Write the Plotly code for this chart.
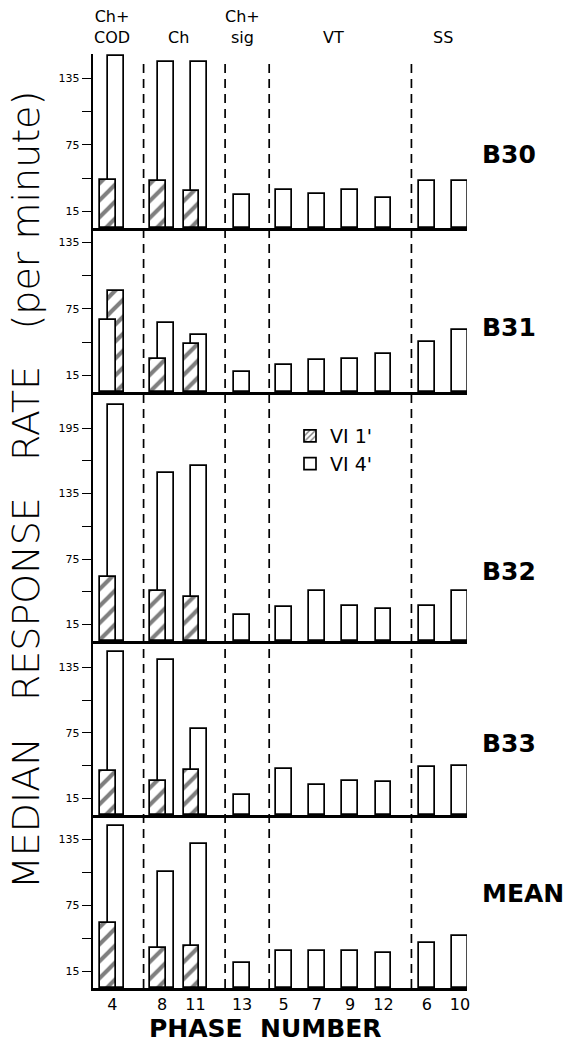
import plotly.graph_objects as go
from plotly.subplots import make_subplots

# ---------------- data ----------------
phases = ["4", "8", "11", "13", "5", "7", "9", "12", "6", "10"]
group_labels = ["Ch+<br>COD", "Ch", "Ch+<br>sig", "VT", "SS"]
group_sizes = [1, 2, 1, 4, 2]
panel_names = ["B30", "B31", "B32", "B33", "MEAN"]
series_names = ["VI 1'", "VI 4'"]

# VI 1' (hatched) - only measured in phases 4, 8, 11
vi1_b30 = [43, 42, 33, None, None, None, None, None, None, None]
vi1_b31 = [91, 30, 43.5, None, None, None, None, None, None, None]
vi1_b32 = [59, 46, 40, None, None, None, None, None, None, None]
vi1_b33 = [40, 31.5, 41, None, None, None, None, None, None, None]
vi1_mean = [59, 36, 38, None, None, None, None, None, None, None]

# VI 4' (open)
vi4_b30 = [155, 150, 150, 30, 34, 31, 34, 27, 42, 42]
vi4_b31 = [65, 62, 51, 18, 24, 28.5, 30, 34, 45, 56]
vi4_b32 = [216, 154, 160, 24, 31, 46, 32, 29, 32, 46]
vi4_b33 = [149, 142, 79, 18, 42, 27.5, 31.5, 30.5, 43.5, 45]
vi4_mean = [147, 105, 131, 23, 33.5, 33.5, 33.5, 32, 41, 47]

vi1_panels = [vi1_b30, vi1_b31, vi1_b32, vi1_b33, vi1_mean]
vi4_panels = [vi4_b30, vi4_b31, vi4_b32, vi4_b33, vi4_mean]

y_tick_vals = [15, 45, 75, 105, 135, 165, 195]
y_tick_text = ["15", "", "75", "", "135", "", "195"]
y_tops = [157, 147.6, 228, 159, 157]

# ---------------- layout constants ----------------
W, H = 565, 1045
ML, MR, MT, MB = 93, 98, 54, 57
PW, PH = W - ML - MR, H - MT - MB
row_px = [174, 164, 249, 174, 173]
GROUP_GAPS = [0.5, 0.4, 0.25, 0.3]
BAR_W = 0.48
PAIR_SHIFT = 0.12
FONT = "DejaVu Sans"


def px_x(px):
    return (px - ML) / PW


def px_y(py):
    return (H - MB - py) / PH


# category positions: one slot per phase plus gaps between groups
positions = []
group_of = []
p = 0.0
for g, n in enumerate(group_sizes):
    if g > 0:
        p += GROUP_GAPS[g - 1]
    for _ in range(n):
        positions.append(p)
        group_of.append(g)
        p += 1.0

fig = make_subplots(rows=5, cols=1, shared_xaxes=True, vertical_spacing=0,
                    row_heights=row_px)

bar_line = dict(color="black", width=1.7)
pattern_common = dict(fgcolor="black", bgcolor="white", size=12, solidity=0.34)

for r, (v1, v4) in enumerate(zip(vi1_panels, vi4_panels), start=1):
    back_y, back_off, back_shape = [], [], []
    front_y, front_off, front_shape = [], [], []
    for a, b in zip(v1, v4):
        if a is None:
            back_y.append(b); back_off.append(-BAR_W / 2); back_shape.append("")
            front_y.append(None); front_off.append(0); front_shape.append("")
        else:
            if a <= b:
                fy, fs, by, bs = a, "/", b, ""
            else:
                fy, fs, by, bs = b, "", a, "/"
            back_y.append(by); back_off.append(PAIR_SHIFT - BAR_W / 2); back_shape.append(bs)
            front_y.append(fy); front_off.append(-PAIR_SHIFT - BAR_W / 2); front_shape.append(fs)
    fig.add_trace(go.Bar(x=positions, y=back_y, offset=back_off, width=BAR_W,
                         marker=dict(color="white", line=bar_line,
                                     pattern=dict(shape=back_shape, **pattern_common)),
                         showlegend=False, hoverinfo="skip"), row=r, col=1)
    fig.add_trace(go.Bar(x=positions, y=front_y, offset=front_off, width=BAR_W,
                         marker=dict(color="white", line=bar_line,
                                     pattern=dict(shape=front_shape, **pattern_common)),
                         showlegend=False, hoverinfo="skip"), row=r, col=1)

# legend entries
for name, shape in zip(series_names, ["/", ""]):
    fig.add_trace(go.Bar(x=[None], y=[None], name=name,
                         marker=dict(color="white", line=bar_line,
                                     pattern=dict(shape=shape, fgcolor="black",
                                                  bgcolor="white", size=5, solidity=0.35)),
                         showlegend=True), row=3, col=1)

x_range = [-0.58, 10.66]
for r in range(1, 6):
    fig.update_xaxes(range=x_range, showline=True, linecolor="black", linewidth=2.6,
                     showgrid=False, zeroline=False, ticks="",
                     tickvals=positions, ticktext=phases,
                     tickfont=dict(family=FONT, size=16, color="black"),
                     showticklabels=(r == 5), row=r, col=1)
    fig.update_yaxes(range=[0, y_tops[r - 1]], showline=True, linecolor="black",
                     linewidth=2.4, showgrid=False, zeroline=False,
                     tickvals=y_tick_vals, ticktext=y_tick_text,
                     ticks="outside", ticklen=9, tickwidth=1.4, tickcolor="black",
                     tickfont=dict(family=FONT, size=11, color="black"),
                     row=r, col=1)

# dashed separators between condition groups
shapes = []
for i in range(1, len(positions)):
    if group_of[i] != group_of[i - 1]:
        xd = (positions[i] + positions[i - 1]) / 2 + 0.19
        shapes.append(dict(type="line", xref="x", yref="paper", x0=xd, x1=xd,
                           y0=0, y1=px_y(60),
                           line=dict(color="black", width=1.7, dash="9px,6px")))

annotations = []
for g, lab in enumerate(group_labels):
    xs = [positions[i] for i in range(len(positions)) if group_of[i] == g]
    annotations.append(dict(text=lab, x=sum(xs) / len(xs), xref="x", y=px_y(49),
                            yref="paper", yanchor="bottom", showarrow=False,
                            font=dict(family=FONT, size=16, color="black")))

label_centers = [154, 327, 571, 743, 893]
for name, yc in zip(panel_names, label_centers):
    annotations.append(dict(text=name, x=px_x(480), xref="paper", xanchor="left",
                            y=px_y(yc), yref="paper", yanchor="middle", showarrow=False,
                            font=dict(family=FONT, size=25, color="black", weight="bold")))

annotations.append(dict(text="MEDIAN\u00a0\u00a0 RESPONSE\u00a0\u00a0 RATE\u00a0\u00a0 (per minute)",
                        x=px_x(26), xref="paper", y=px_y(490), yref="paper",
                        textangle=-90, showarrow=False, xanchor="center", yanchor="middle",
                        font=dict(family=FONT, size=38, color="black", weight=300)))
annotations.append(dict(text="PHASE\u00a0 NUMBER", x=px_x(265), xref="paper",
                        y=px_y(1028), yref="paper", showarrow=False,
                        xanchor="center", yanchor="middle",
                        font=dict(family=FONT, size=25, color="black", weight="bold")))

fig.update_layout(
    width=W, height=H,
    margin=dict(l=ML, r=MR, t=MT, b=MB),
    paper_bgcolor="white", plot_bgcolor="white",
    barmode="overlay", bargap=0,
    shapes=shapes, annotations=annotations,
    legend=dict(x=px_x(290), y=px_y(417), xanchor="left", yanchor="top",
                bgcolor="rgba(0,0,0,0)", font=dict(family=FONT, size=19, color="black"),
                tracegroupgap=0),
    font=dict(family=FONT, color="black"),
)

fig.write_html("out.html",
               config={"displayModeBar": False},
               post_script="document.body.style.margin='0';"
                           "document.body.style.overflow='hidden';")
